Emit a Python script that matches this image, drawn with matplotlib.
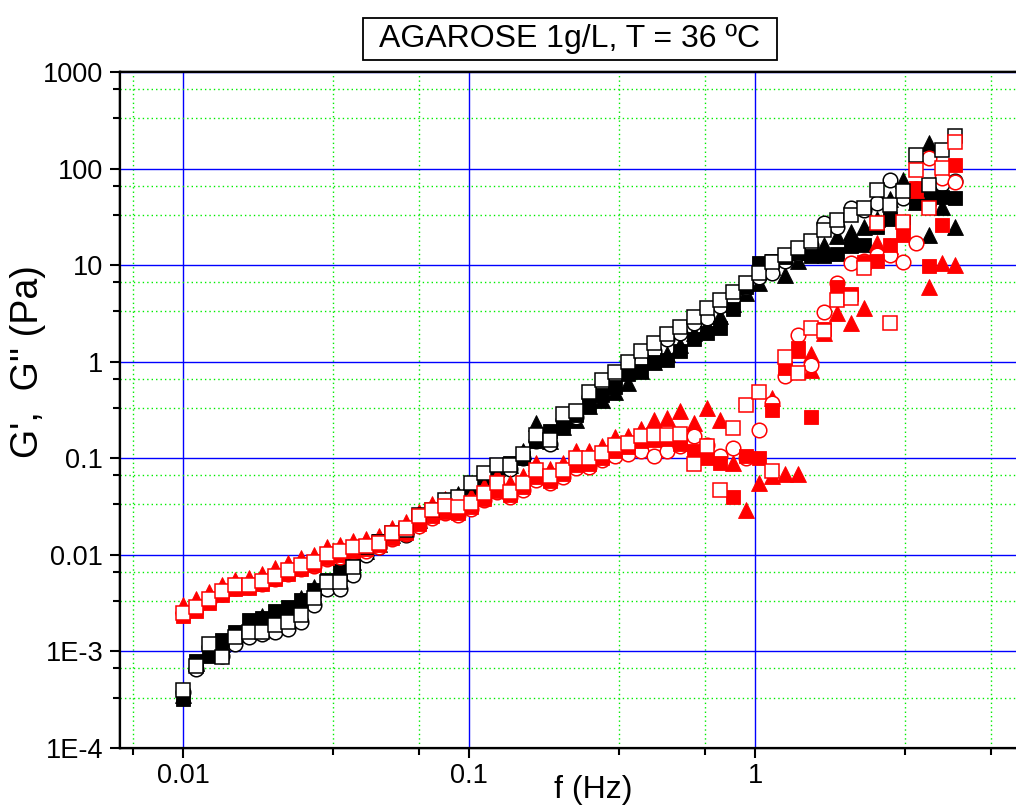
import numpy as np
import matplotlib
matplotlib.use("Agg")
import matplotlib.pyplot as plt
from matplotlib.patches import Rectangle
from matplotlib.ticker import FixedLocator, NullFormatter

plt.rcParams["font.family"] = ["Liberation Sans", "DejaVu Sans"]

# Oscillation frequency sweep (Hz)
freq = [0.01, 0.01111, 0.01235, 0.01372, 0.01524, 0.01694, 0.01882, 0.02091, 0.02323, 0.02581,
        0.02868, 0.03187, 0.03541, 0.03935, 0.04372, 0.04858, 0.05398, 0.05998, 0.06664, 0.07405,
        0.08228, 0.09142, 0.1016, 0.1129, 0.1254, 0.1393, 0.1548, 0.1720, 0.1911, 0.2124,
        0.2360, 0.2622, 0.2913, 0.3237, 0.3597, 0.3996, 0.4440, 0.4934, 0.5482, 0.6091,
        0.6768, 0.7520, 0.8355, 0.9284, 1.0315, 1.1461, 1.2735, 1.4150, 1.5722, 1.7469,
        1.9410, 2.1567, 2.3963, 2.6626, 2.9584, 3.2871, 3.6524, 4.0582, 4.5091, 5.0101]

# Storage modulus G' (Pa), four runs
gp_sq_fill = [3.2e-4, 8.0e-4, 9.0e-4, 1.3e-3, 1.6e-3, 2.1e-3, 2.2e-3, 2.6e-3, 2.9e-3, 3.4e-3,
              4.3e-3, 5.5e-3, 6.8e-3, 8.0e-3, 0.012, 0.014, 0.017, 0.019, 0.024, 0.027,
              0.034, 0.040, 0.050, 0.062, 0.075, 0.090, 0.10, 0.15, 0.19, 0.22,
              0.28, 0.36, 0.45, 0.55, 0.75, 0.80, 1.0, 1.05, 1.3, 1.7,
              2.0, 2.25, 3.5, 6.0, 10.6, 11, 12, 13.4, 12.5, 12.3,
              13, 15.6, 16, 25, 30, 28, 45, 55, 51, 50]
gp_sq_open = [4.0e-4, 7.1e-4, 1.2e-3, 8.8e-4, 1.4e-3, 1.6e-3, 1.6e-3, 1.9e-3, 2.0e-3, 2.4e-3,
              3.6e-3, 5.2e-3, 5.2e-3, 7.4e-3, 0.012, 0.0135, 0.017, 0.018, 0.026, 0.029,
              0.037, 0.040, 0.055, 0.071, 0.086, 0.086, 0.11, 0.175, 0.156, 0.29,
              0.31, 0.49, 0.65, 0.79, 1.0, 1.28, 1.55, 1.95, 2.3, 2.9,
              3.6, 4.4, 5.3, 6.5, 8.3, 10.9, 12.8, 15, 17.6, 23,
              29.5, 33, 39, 60, 42, 58, 138, 68, 157, 215]
gp_tri = [3.5e-4, 7.5e-4, 1.0e-3, 1.2e-3, 1.5e-3, 1.9e-3, 2.3e-3, 2.4e-3, 2.7e-3, 3.6e-3,
          4.6e-3, 5.0e-3, 6.5e-3, 8.5e-3, 0.011, 0.013, 0.016, 0.020, 0.023, 0.030,
          0.033, 0.043, 0.052, 0.066, 0.080, 0.085, 0.12, 0.23, 0.15, 0.21,
          0.25, 0.35, 0.40, 0.48, 0.60, 0.80, 1.0, 1.2, 1.5, 2.0,
          2.4, 3.0, 4.0, 5.2, 6.5, 9.6, 8.0, 11, 14, 16,
          20, 22, 25, 30, 48, 76, 45, 185, 40, 25]
gp_circ = [3.8e-4, 6.5e-4, 1.1e-3, 9.0e-4, 1.2e-3, 1.4e-3, 1.5e-3, 1.6e-3, 1.7e-3, 2.0e-3,
           3.0e-3, 4.4e-3, 4.4e-3, 6.2e-3, 0.010, 0.012, 0.015, 0.016, 0.022, 0.025,
           0.032, 0.036, 0.047, 0.060, 0.075, 0.078, 0.10, 0.15, 0.14, 0.25,
           0.27, 0.43, 0.57, 0.70, 0.88, 1.0, 1.3, 1.7, 2.0, 2.5,
           2.85, 3.8, 4.6, 5.8, 7.5, 8.3, 11, 13, 16, 27,
           25, 39, 37, 44, 76, 50, 62, 45, 70, 75]
gp_tri_extra_f = [4.0582]
gp_tri_extra_v = [20.6]

# Loss modulus G'' (Pa), four runs
gpp_sq_fill = [2.3e-3, 2.6e-3, 3.2e-3, 3.8e-3, 4.4e-3, 4.5e-3, 5.0e-3, 5.6e-3, 6.3e-3, 7.2e-3,
               7.8e-3, 9.2e-3, 0.010, 0.011, 0.0115, 0.0125, 0.015, 0.017, 0.021, 0.025,
               0.028, 0.027, 0.031, 0.038, 0.046, 0.042, 0.050, 0.064, 0.058, 0.068,
               0.085, 0.088, 0.10, 0.12, 0.13, 0.15, 0.155, 0.16, 0.14, 0.12,
               0.10, 0.09, 0.04, 0.105, 0.10, 0.32, 0.87, 1.4, 0.27, 2.2,
               6.0, 5.0, 10.8, 11, 16, 22, 63, 9.7, 26, 109]
gpp_sq_open = [2.5e-3, 2.9e-3, 3.5e-3, 4.2e-3, 4.9e-3, 4.9e-3, 5.3e-3, 6.1e-3, 7.0e-3, 7.9e-3,
               8.4e-3, 0.0103, 0.0109, 0.0122, 0.0124, 0.0133, 0.0169, 0.0191, 0.025, 0.029,
               0.032, 0.031, 0.0345, 0.044, 0.0555, 0.045, 0.0555, 0.076, 0.065, 0.076,
               0.10, 0.10, 0.113, 0.138, 0.144, 0.169, 0.175, 0.175, 0.18, 0.088,
               0.133, 0.047, 0.207, 0.36, 0.48, 0.073, 1.13, 0.77, 2.25, 2.1,
               4.4, 4.6, 9.4, 27, 2.5, 28, 97, 39, 101, 190]
gpp_tri = [3.0e-3, 3.5e-3, 4.1e-3, 4.9e-3, 5.5e-3, 5.8e-3, 6.4e-3, 7.3e-3, 8.2e-3, 9.2e-3,
           0.0100, 0.0120, 0.0128, 0.0140, 0.0145, 0.0155, 0.019, 0.022, 0.028, 0.034,
           0.038, 0.036, 0.041, 0.052, 0.065, 0.055, 0.066, 0.090, 0.078, 0.090,
           0.12, 0.12, 0.135, 0.165, 0.17, 0.20, 0.25, 0.26, 0.306, 0.23,
           0.33, 0.25, 0.09, 0.029, 0.056, 0.065, 0.068, 0.068, 1.2, 2.0,
           3.2, 2.5, 3.6, 17, 15.6, 21, 60, 5.9, 10.5, 10]
gpp_circ = [2.5e-3, 2.8e-3, 3.3e-3, 3.9e-3, 4.5e-3, 4.6e-3, 5.0e-3, 5.6e-3, 6.4e-3, 7.1e-3,
            7.6e-3, 9.0e-3, 9.6e-3, 0.0107, 0.011, 0.012, 0.0145, 0.0165, 0.020, 0.024,
            0.027, 0.026, 0.030, 0.037, 0.045, 0.040, 0.047, 0.060, 0.055, 0.064,
            0.080, 0.082, 0.095, 0.105, 0.11, 0.12, 0.105, 0.118, 0.133, 0.169,
            0.138, 0.105, 0.127, 0.10, 0.198, 0.376, 0.705, 1.9, 0.93, 3.3,
            6.5, 10.6, 11, 12.8, 12.8, 10.9, 17, 130, 80, 73]
gpp_tri_extra_f = [1.1461, 1.4150, 1.5722]
gpp_tri_extra_v = [0.42, 1.33, 0.83]

x_major = [0.01, 0.1, 1]
x_major_labels = ["0.01", "0.1", "1"]
y_major = [1e-4, 1e-3, 1e-2, 1e-1, 1, 10, 100, 1000]
y_major_labels = ["1E-4", "1E-3", "0.01", "0.1", "1", "10", "100", "1000"]

RED = "#ff0000"
BLACK = "#000000"

W, H = 1016, 805
fig = plt.figure(figsize=(W / 100, H / 100), dpi=100)
left, right, bottom, top = 120, 1018, 748, 72
ax = fig.add_axes([left / W, 1 - bottom / H, (right - left) / W, (bottom - top) / H])
ax.set_xscale("log")
ax.set_yscale("log")
xlim = (0.00602, 8.3)
ylim = (1e-4, 1e3)
ax.set_xlim(*xlim)
ax.set_ylim(*ylim)

x_minor = [m * 10.0 ** e for e in range(-3, 1) for m in (10 / 3, 20 / 3)]
y_minor = [m * 10.0 ** e for e in range(-5, 3) for m in (10 / 3, 20 / 3)]

for axis, maj, lab, mnr in ((ax.xaxis, x_major, x_major_labels, x_minor),
                            (ax.yaxis, y_major, y_major_labels, y_minor)):
    axis.set_major_locator(FixedLocator(maj))
    axis.set_ticklabels(lab)
    axis.set_minor_locator(FixedLocator(mnr))
    axis.set_minor_formatter(NullFormatter())

ax.grid(True, which="major", color="#0000ff", lw=1.0)
ax.grid(True, which="minor", color="#00ee00", lw=1.0, linestyle=(0, (1, 2.2)))
ax.set_axisbelow(True)

ax.tick_params(which="both", direction="out", width=1.5, labelsize=19.5)
ax.tick_params(axis="x", pad=4)
ax.tick_params(axis="y", pad=5)
ax.tick_params(which="major", length=7)
ax.tick_params(which="minor", length=5)
for s in ax.spines.values():
    s.set_linewidth(1.6)

# inward ticks on the top and right frame lines
axt = ax.twiny()
axt.set_xscale("log")
axt.set_xlim(*xlim)
axt.xaxis.set_major_locator(FixedLocator(x_major))
axt.xaxis.set_minor_locator(FixedLocator(x_minor))
axt.tick_params(which="both", direction="in", width=1.5, labeltop=False)
axt.tick_params(which="major", length=7)
axt.tick_params(which="minor", length=5)
axr = ax.twinx()
axr.set_yscale("log")
axr.set_ylim(*ylim)
axr.yaxis.set_major_locator(FixedLocator(y_major))
axr.yaxis.set_minor_locator(FixedLocator(y_minor))
axr.tick_params(which="both", direction="in", width=1.5, labelright=False)
for a in (axt, axr):
    a.set_zorder(ax.get_zorder() - 1)
    for s in a.spines.values():
        s.set_linewidth(1.6)


def draw(vals, marker, color, filled, ms, z, xf=None, xv=None):
    f = list(freq) + (list(xf) if xf else [])
    v = list(vals) + (list(xv) if xv else [])
    ax.plot(f, v, linestyle="none", marker=marker, ms=ms,
            mfc=color if filled else "white", mec=color,
            mew=1.1 if not filled else 0.6, zorder=z, clip_on=False)


draw(gp_tri, "^", BLACK, True, 12.0, 3, gp_tri_extra_f, gp_tri_extra_v)
draw(gp_circ, "o", BLACK, False, 10.5, 4)
draw(gp_sq_fill, "s", BLACK, True, 10.0, 5)
draw(gpp_tri, "^", RED, True, 12.0, 6, gpp_tri_extra_f, gpp_tri_extra_v)
draw(gpp_circ, "o", RED, False, 10.5, 7)
draw(gpp_sq_fill, "s", RED, True, 10.0, 8)
draw(gp_sq_open, "s", BLACK, False, 10.0, 9)
draw(gpp_sq_open, "s", RED, False, 10.0, 10)

# axis titles
fig.text(593 / W, 1 - 790 / H, "f (Hz)", ha="center", va="center", fontsize=23)
fig.text(28 / W, 1 - 362 / H, "G',  G'' (Pa)", ha="center", va="center",
         fontsize=27, rotation=90)

# boxed heading
fig.add_artist(Rectangle((363 / W, 1 - 60 / H), (777 - 363) / W, 42 / H,
                         transform=fig.transFigure, fc="white", ec="black", lw=1.3))
fig.text(570 / W, 1 - 39 / H, "AGAROSE 1g/L, T = 36 ºC", ha="center", va="center",
         fontsize=23)

fig.savefig("out.png", dpi=100)
